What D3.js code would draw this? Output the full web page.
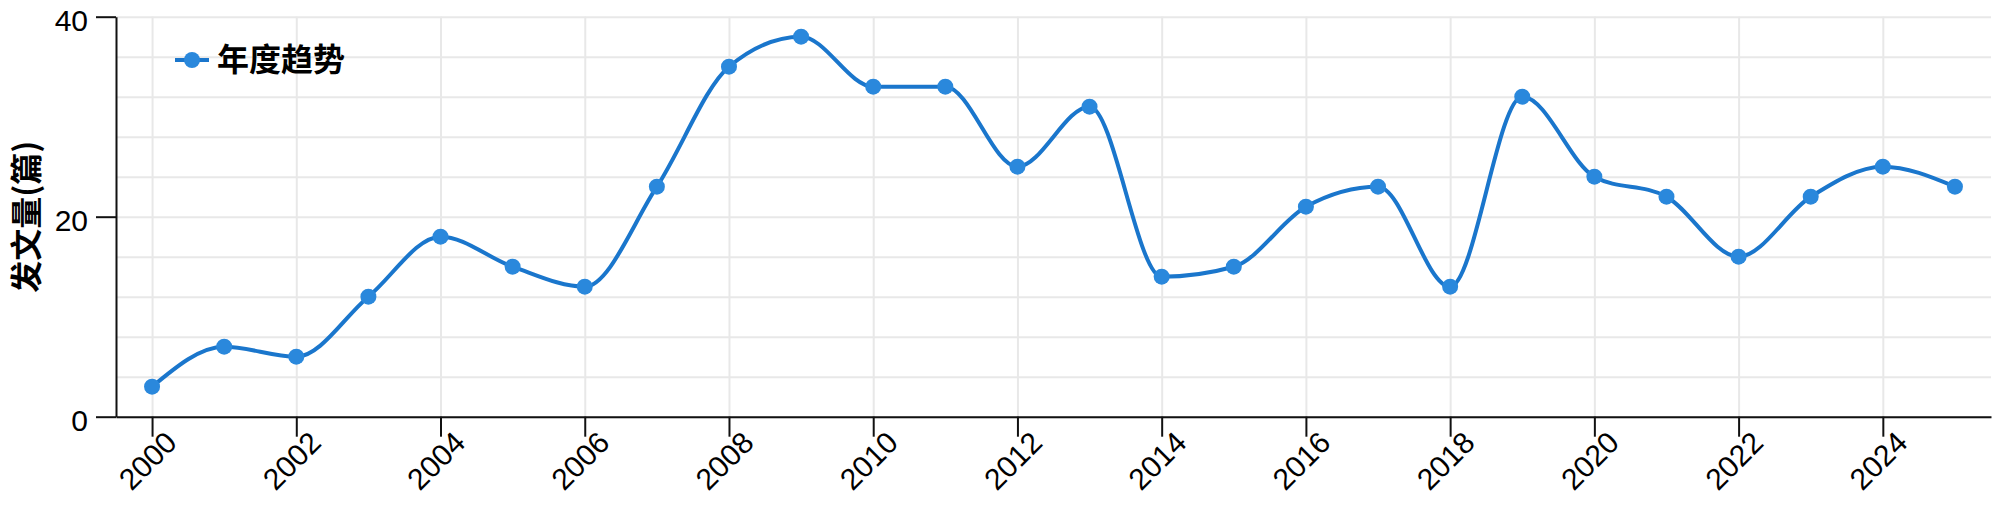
<!DOCTYPE html>
<html>
<head>
<meta charset="utf-8">
<script src="https://cdn.jsdelivr.net/npm/d3@7"></script>
<style>
    body { margin: 0; background: #fff; }
    text { font-family: "Liberation Sans", Arial, "Noto Sans CJK SC", sans-serif; }
</style>
</head>
<body>
<div id="chart"></div>
<script>
(function(d3) {
    'use strict';

    var years = [2000, 2001, 2002, 2003, 2004, 2005, 2006, 2007, 2008, 2009, 2010, 2011, 2012,
                 2013, 2014, 2015, 2016, 2017, 2018, 2019, 2020, 2021, 2022, 2023, 2024, 2025];
    var counts = [3, 7, 6, 12, 18, 15, 13, 23, 35, 38, 33, 33, 25,
                  31, 14, 15, 21, 23, 13, 32, 24, 22, 16, 22, 25, 23];
    var xTicks = [2000, 2002, 2004, 2006, 2008, 2010, 2012, 2014, 2016, 2018, 2020, 2022, 2024];
    var yTicks = [0, 20, 40];
    var yGrid = [0, 4, 8, 12, 16, 20, 24, 28, 32, 36, 40];
    var seriesName = '年度趋势';
    var yTitle = '发文量(篇)';

    var width = 2000,
        height = 526,
        left = 116,
        right = 1991,
        top = 16.7,
        bottom = 416.7;

    var lineColor = '#1a76cc',
        dotColor = '#2a88dc',
        gridColor = '#e8e8e8';

    var x = d3.scaleLinear()
        .domain([1999.5, 2025.5])
        .range([left, right]);

    var y = d3.scaleLinear()
        .domain([0, 40])
        .range([bottom, top]);

    var svg = d3.select('#chart').append('svg')
        .attr('width', width)
        .attr('height', height);

    // grid
    var gy = svg.append('g')
        .attr('transform', 'translate(' + left + ',0)')
        .call(d3.axisLeft(y).tickValues(yGrid).tickSize(-(right - left)).tickFormat(''));
    var gx = svg.append('g')
        .attr('transform', 'translate(0,' + bottom + ')')
        .call(d3.axisBottom(x).tickValues(xTicks).tickSize(-(bottom - top)).tickFormat(''));
    [gy, gx].forEach(function(g) {
        g.select('.domain').remove();
        g.selectAll('line').attr('stroke', gridColor).attr('stroke-width', 2);
    });

    // axes
    var xAxis = svg.append('g')
        .attr('transform', 'translate(0,' + bottom + ')')
        .call(d3.axisBottom(x).tickValues(xTicks).tickSize(20).tickSizeOuter(0).tickFormat(d3.format('d')));
    xAxis.selectAll('text')
        .attr('x', -5)
        .attr('y', 44)
        .attr('dy', '0.35em')
        .attr('text-anchor', 'middle')
        .attr('transform', 'rotate(-45,-5,44)');

    var yAxis = svg.append('g')
        .attr('transform', 'translate(' + left + ',0)')
        .call(d3.axisLeft(y).tickValues(yTicks).tickSize(20).tickSizeOuter(0).tickPadding(8));
    yAxis.selectAll('text').attr('dy', '0.47em');

    [xAxis, yAxis].forEach(function(g) {
        g.selectAll('.domain, line').attr('stroke', '#111').attr('stroke-width', 2);
        g.selectAll('text')
            .attr('fill', '#000')
            .style('font-size', '30px')
            .style('font-family', '"Liberation Sans", Arial, sans-serif');
    });

    svg.append('text')
        .attr('transform', 'translate(27,' + ((top + bottom) / 2) + ') rotate(-90)')
        .attr('text-anchor', 'middle')
        .attr('dy', '0.35em')
        .style('font-family', '"Noto Sans CJK SC", sans-serif')
        .style('font-size', '32px')
        .style('font-weight', 'bold')
        .text(yTitle);

    // series
    var data = years.map(function(d, i) { return { year: d, value: counts[i] }; });

    var line = d3.line()
        .x(function(d) { return x(d.year); })
        .y(function(d) { return y(d.value); })
        .curve(d3.curveMonotoneX);

    svg.append('path')
        .datum(data)
        .attr('d', line)
        .attr('fill', 'none')
        .attr('stroke', lineColor)
        .attr('stroke-width', 4);

    svg.selectAll('.dot')
        .data(data)
        .enter()
        .append('circle')
        .attr('class', 'dot')
        .attr('cx', function(d) { return x(d.year); })
        .attr('cy', function(d) { return y(d.value); })
        .attr('r', 8)
        .attr('fill', dotColor);

    // legend
    var legend = svg.append('g')
        .attr('transform', 'translate(175,60)');
    legend.append('line')
        .attr('x1', 0)
        .attr('x2', 34)
        .attr('stroke', lineColor)
        .attr('stroke-width', 4);
    legend.append('circle')
        .attr('cx', 17)
        .attr('r', 8)
        .attr('fill', dotColor);
    legend.append('text')
        .attr('x', 42)
        .attr('dy', '0.35em')
        .style('font-family', '"Noto Sans CJK SC", sans-serif')
        .style('font-size', '32px')
        .style('font-weight', 'bold')
        .text(seriesName);

})(window.d3);
</script>
</body>
</html>
